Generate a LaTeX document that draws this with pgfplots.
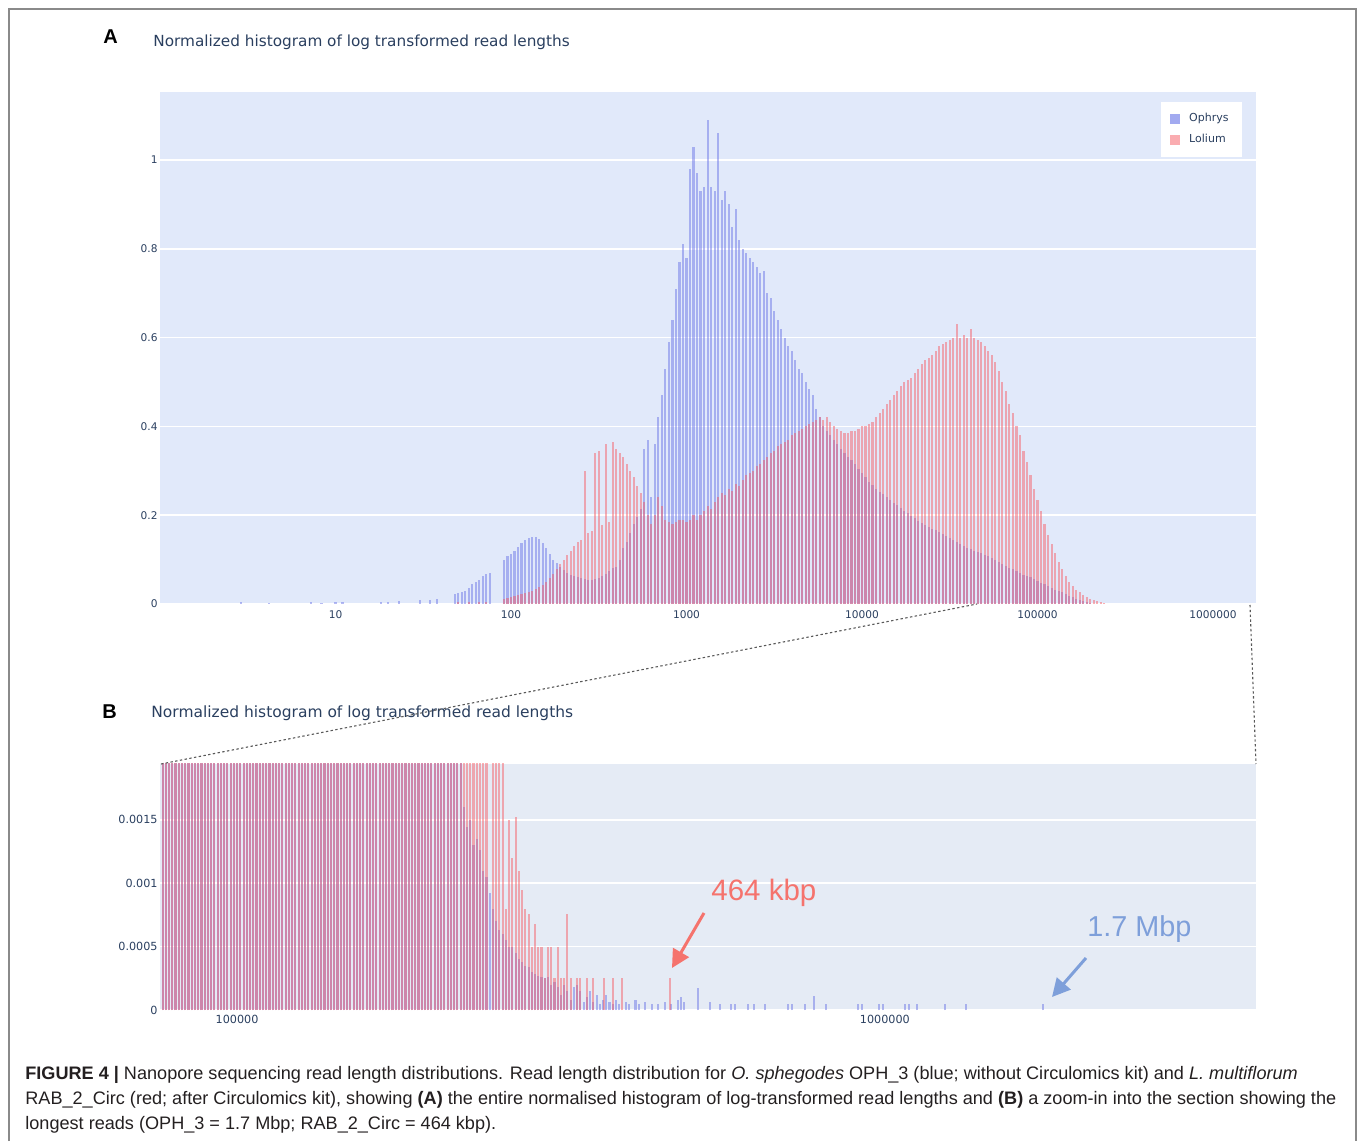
\documentclass[border=0pt]{standalone}
\usepackage{fontspec}
\setmainfont{Liberation Sans}
\newfontfamily\dejavu{DejaVu Sans}
\usepackage{pgfplots}
\pgfplotsset{compat=1.18}
\usetikzlibrary{arrows.meta}
\definecolor{bgA}{HTML}{E1E9FA}
\definecolor{bgB}{HTML}{E5EBF5}
\definecolor{navy}{HTML}{2A3F5F}
\definecolor{ophrys}{HTML}{6770E6}
\definecolor{lolium}{HTML}{F65A62}
\definecolor{capgray}{HTML}{231F20}
\definecolor{annred}{HTML}{F5736D}
\definecolor{annblue}{HTML}{7E9FDA}
\definecolor{framegray}{HTML}{8A8A8A}
\pgfplotsset{
  plotlystyle/.style={
    scale only axis, axis line style={draw=none}, major tick length=0pt,
    ymajorgrids, grid style={white, line width=0.8pt},
    tick label style={font=\dejavu\fontsize{5.3}{6}\selectfont, text=navy},
    yticklabel style={inner xsep=1pt},
    scaled y ticks=false, scaled x ticks=false,
    /pgf/number format/assume math mode=true,
    clip=true,
  },
  bluebar/.style={ycomb, draw=ophrys, line width=1.05pt, draw opacity=0.48, forget plot},
  redbar/.style={ycomb, draw=lolium, line width=1.05pt, draw opacity=0.48, forget plot},
}
\begin{document}
\begin{tikzpicture}
\useasboundingbox (0pt,0pt) rectangle (680pt,570.5pt);

% ---------------- Panel A ----------------
\begin{axis}[plotlystyle, at={(80pt,268.5pt)}, anchor=south west,
  width=548pt, height=256pt,
  axis background/.style={fill=bgA},
  xmin=0, xmax=6.245, ymin=0, ymax=1.153,
  xtick={1,2,3,4,5,6}, xticklabels={10,100,1000,10000,100000,1000000},
  ytick={0,0.2,0.4,0.6,0.8,1}, yticklabels={0,0.2,0.4,0.6,0.8,1},
  legend style={at={(1,1)}, anchor=north east, xshift=-7pt, yshift=-5pt,
    fill=white, draw=none, font=\dejavu\fontsize{5.5}{6.5}\selectfont, text=navy,
    inner xsep=4.5pt, inner ysep=3.5pt, row sep=0.8pt,
    /tikz/every odd column/.append style={column sep=2.5pt}},
  legend cell align=left,
  legend image code/.code={\fill[#1] (0pt,-2.6pt) rectangle (5.2pt,2.6pt);},
]
\addlegendimage{fill=ophrys!52!bgA, draw=none}
\addlegendentry{Ophrys}
\addlegendimage{fill=lolium!50!white, draw=none}
\addlegendentry{Lolium}
\addplot[bluebar] coordinates {
(0.46,0.004)(0.62,0.003)(0.86,0.004)(0.92,0.003)(1.00,0.005)(1.04,0.004)(1.26,0.005)(1.30,0.004)(1.36,0.006)(1.48,0.008)(1.54,0.010)(1.58,0.012)
(1.68,0.022)(1.70,0.025)(1.72,0.028)(1.74,0.030)(1.76,0.035)(1.78,0.045)(1.80,0.050)(1.82,0.055)(1.84,0.062)(1.86,0.068)(1.88,0.070)
(1.96,0.100)(1.98,0.108)(2.00,0.112)(2.02,0.120)(2.04,0.128)(2.06,0.138)(2.08,0.144)(2.10,0.148)(2.12,0.150)(2.14,0.150)
(2.16,0.146)(2.18,0.138)(2.20,0.126)(2.22,0.112)(2.24,0.100)(2.26,0.092)(2.28,0.084)(2.30,0.076)(2.32,0.070)(2.34,0.065)
(2.36,0.062)(2.38,0.060)(2.40,0.058)(2.42,0.056)(2.44,0.055)(2.46,0.055)(2.48,0.056)(2.50,0.058)(2.52,0.062)(2.54,0.068)
(2.56,0.075)(2.58,0.080)(2.60,0.083)(2.62,0.100)(2.64,0.125)(2.66,0.140)(2.68,0.160)(2.70,0.180)(2.72,0.195)(2.74,0.215)
(2.76,0.350)(2.78,0.370)(2.80,0.240)(2.82,0.360)
(2.84,0.42)(2.86,0.47)(2.88,0.53)(2.90,0.59)(2.92,0.64)(2.94,0.71)(2.96,0.77)(2.98,0.81)(3.00,0.78)(3.02,0.98)
(3.04,1.03)(3.06,0.97)(3.08,0.93)(3.10,0.94)(3.12,1.09)(3.14,0.94)(3.16,0.93)(3.18,1.06)(3.20,0.91)(3.22,0.93)
(3.24,0.90)(3.26,0.85)(3.28,0.89)(3.30,0.82)(3.32,0.80)(3.34,0.79)(3.36,0.78)(3.38,0.77)(3.40,0.76)(3.42,0.745)
(3.44,0.75)(3.46,0.70)(3.48,0.69)(3.50,0.66)(3.52,0.64)(3.54,0.62)(3.56,0.60)(3.58,0.58)(3.60,0.57)(3.62,0.55)
(3.64,0.53)(3.66,0.52)(3.68,0.50)(3.70,0.485)(3.72,0.47)(3.74,0.44)(3.76,0.42)(3.78,0.40)(3.80,0.39)(3.82,0.38)
(3.84,0.37)(3.86,0.36)(3.88,0.35)(3.90,0.34)(3.92,0.33)(3.94,0.325)(3.96,0.315)(3.98,0.305)(4.00,0.295)(4.02,0.285)
(4.04,0.275)(4.06,0.268)(4.08,0.260)(4.10,0.253)(4.12,0.248)(4.14,0.240)(4.16,0.235)(4.18,0.228)(4.20,0.222)(4.22,0.216)
(4.24,0.210)(4.26,0.205)(4.28,0.198)(4.30,0.193)(4.32,0.188)(4.34,0.182)(4.36,0.178)(4.38,0.174)(4.40,0.170)(4.42,0.166)
(4.44,0.162)(4.46,0.157)(4.48,0.153)(4.50,0.148)(4.52,0.144)(4.54,0.140)(4.56,0.135)(4.58,0.131)(4.60,0.127)(4.62,0.123)
(4.64,0.120)(4.66,0.117)(4.68,0.114)(4.70,0.111)(4.72,0.107)(4.74,0.103)(4.76,0.099)(4.78,0.095)(4.80,0.090)(4.82,0.086)
(4.84,0.082)(4.86,0.078)(4.88,0.074)(4.90,0.070)(4.92,0.066)(4.94,0.063)(4.96,0.060)(4.98,0.057)(5.00,0.052)(5.02,0.048)
(5.04,0.044)(5.06,0.040)(5.08,0.036)(5.10,0.032)(5.12,0.029)(5.14,0.026)(5.16,0.022)(5.18,0.019)(5.20,0.015)(5.22,0.011)
(5.24,0.008)(5.26,0.006)(5.28,0.004)(5.30,0.002)
};
\addplot[redbar] coordinates {
(1.70,0.004)(1.76,0.004)(1.82,0.005)(1.86,0.005)
(1.96,0.012)(1.98,0.014)(2.00,0.016)(2.02,0.018)(2.04,0.020)(2.06,0.022)(2.08,0.024)(2.10,0.027)(2.12,0.030)(2.14,0.034)
(2.16,0.038)(2.18,0.043)(2.20,0.050)(2.22,0.058)(2.24,0.068)(2.26,0.078)(2.28,0.090)(2.30,0.100)(2.32,0.110)(2.34,0.120)
(2.36,0.130)(2.38,0.140)(2.40,0.145)(2.42,0.300)(2.44,0.160)(2.46,0.165)(2.48,0.340)(2.50,0.345)(2.52,0.178)(2.54,0.360)
(2.56,0.185)(2.58,0.365)(2.60,0.350)(2.62,0.340)(2.64,0.330)(2.66,0.315)(2.68,0.300)(2.70,0.285)(2.72,0.265)(2.74,0.250)
(2.76,0.230)(2.78,0.200)(2.80,0.180)(2.82,0.200)(2.84,0.240)(2.86,0.220)(2.88,0.190)(2.90,0.185)(2.92,0.180)(2.94,0.185)
(2.96,0.190)(2.98,0.190)(3.00,0.185)(3.02,0.190)(3.04,0.200)(3.06,0.190)(3.08,0.200)(3.10,0.210)(3.12,0.220)(3.14,0.215)
(3.16,0.230)(3.18,0.240)(3.20,0.250)(3.22,0.245)(3.24,0.260)(3.26,0.255)(3.28,0.270)(3.30,0.265)(3.32,0.280)(3.34,0.290)
(3.36,0.295)(3.38,0.300)(3.40,0.310)(3.42,0.315)(3.44,0.325)(3.46,0.330)(3.48,0.340)(3.50,0.345)(3.52,0.355)(3.54,0.360)
(3.56,0.365)(3.58,0.370)(3.60,0.380)(3.62,0.385)(3.64,0.390)(3.66,0.395)(3.68,0.400)(3.70,0.405)(3.72,0.410)(3.74,0.415)
(3.76,0.420)(3.78,0.415)(3.80,0.420)(3.82,0.410)(3.84,0.400)(3.86,0.395)(3.88,0.390)(3.90,0.385)(3.92,0.385)(3.94,0.390)
(3.96,0.390)(3.98,0.395)(4.00,0.400)(4.02,0.400)(4.04,0.405)(4.06,0.410)(4.08,0.420)(4.10,0.430)(4.12,0.440)(4.14,0.450)
(4.16,0.460)(4.18,0.470)(4.20,0.480)(4.22,0.490)(4.24,0.500)(4.26,0.505)(4.28,0.510)(4.30,0.520)(4.32,0.530)(4.34,0.540)
(4.36,0.550)(4.38,0.555)(4.40,0.560)(4.42,0.570)(4.44,0.580)(4.46,0.585)(4.48,0.590)(4.50,0.595)(4.52,0.600)(4.54,0.630)
(4.56,0.600)(4.58,0.605)(4.60,0.600)(4.62,0.620)(4.64,0.600)(4.66,0.595)(4.68,0.590)(4.70,0.580)(4.72,0.570)(4.74,0.560)
(4.76,0.545)(4.78,0.525)(4.80,0.500)(4.82,0.480)(4.84,0.450)(4.86,0.430)(4.88,0.400)(4.90,0.380)(4.92,0.345)(4.94,0.320)
(4.96,0.290)(4.98,0.260)(5.00,0.235)(5.02,0.210)(5.04,0.180)(5.06,0.155)(5.08,0.135)(5.10,0.115)(5.12,0.095)(5.14,0.078)
(5.16,0.063)(5.18,0.050)(5.20,0.040)(5.22,0.032)(5.24,0.026)(5.26,0.020)(5.28,0.015)(5.30,0.011)(5.32,0.008)(5.34,0.006)
(5.36,0.004)(5.38,0.002)(5.40,0.001)
};
\end{axis}

% ---------------- Panel B ----------------
\begin{axis}[plotlystyle, at={(80pt,65.5pt)}, anchor=south west,
  width=548pt, height=123pt,
  axis background/.style={fill=bgB},
  xmin=4.881, xmax=6.573, ymin=0, ymax=0.00194,
  xtick={5,6}, xticklabels={100000,1000000},
  ytick={0,0.0005,0.001,0.0015}, yticklabels={0,0.0005,0.001,0.0015},
  tick label style={font=\dejavu\fontsize{5.6}{6.5}\selectfont},
  xticklabel style={yshift=0.8pt},
]
\addplot[bluebar] coordinates {
(4.885,0.0025)(4.890,0.0025)(4.895,0.0025)(4.900,0.0025)(4.905,0.0025)(4.910,0.0025)(4.915,0.0025)(4.920,0.0025)(4.925,0.0025)(4.930,0.0025)
(4.935,0.0025)(4.940,0.0025)(4.945,0.0025)(4.950,0.0025)(4.955,0.0025)(4.960,0.0025)(4.965,0.0025)(4.970,0.0025)(4.975,0.0025)(4.980,0.0025)
(4.985,0.0025)(4.990,0.0025)(4.995,0.0025)(5.000,0.0025)(5.005,0.0025)(5.010,0.0025)(5.015,0.0025)(5.020,0.0025)(5.025,0.0025)(5.030,0.0025)
(5.035,0.0025)(5.040,0.0025)(5.045,0.0025)(5.050,0.0025)(5.055,0.0025)(5.060,0.0025)(5.065,0.0025)(5.070,0.0025)(5.075,0.0025)(5.080,0.0025)
(5.085,0.0025)(5.090,0.0025)(5.095,0.0025)(5.100,0.0025)(5.105,0.0025)(5.110,0.0025)(5.115,0.0025)(5.120,0.0025)(5.125,0.0025)(5.130,0.0025)
(5.135,0.0025)(5.140,0.0025)(5.145,0.0025)(5.150,0.0025)(5.155,0.0025)(5.160,0.0025)(5.165,0.0025)(5.170,0.0025)(5.175,0.0025)(5.180,0.0025)
(5.185,0.0025)(5.190,0.0025)(5.195,0.0025)(5.200,0.0025)(5.205,0.0025)(5.210,0.0025)(5.215,0.0025)(5.220,0.0025)(5.225,0.0025)(5.230,0.0025)
(5.235,0.0025)(5.240,0.0025)(5.245,0.0025)(5.250,0.0025)(5.255,0.0025)(5.260,0.0025)(5.265,0.0025)(5.270,0.0025)(5.275,0.0025)(5.280,0.0025)
(5.285,0.0025)(5.290,0.0025)(5.295,0.0025)(5.300,0.0025)(5.305,0.0025)(5.310,0.0025)(5.315,0.0025)(5.320,0.0025)(5.325,0.0025)(5.330,0.0025)
(5.335,0.0025)(5.340,0.0025)(5.345,0.0025)
(5.350,0.0016)(5.355,0.00144)(5.360,0.0015)(5.365,0.0013)(5.370,0.00135)(5.375,0.00126)(5.380,0.0011)(5.385,0.00105)(5.390,0.00092)(5.395,0.0008)
(5.400,0.0007)(5.405,0.00063)(5.410,0.0006)(5.415,0.00055)(5.420,0.0005)(5.425,0.0005)(5.430,0.00045)(5.435,0.0004)(5.440,0.00038)(5.445,0.00035)
(5.450,0.00034)(5.455,0.0003)(5.460,0.00028)(5.465,0.00027)(5.470,0.00026)(5.475,0.00025)(5.480,0.00026)(5.485,0.0002)(5.490,0.00022)(5.495,0.00018)
(5.500,0.00012)(5.505,0.0002)(5.510,0.00015)(5.515,0.00008)(5.520,0.00018)(5.525,0.0002)(5.530,0.00015)(5.535,0.00006)(5.540,0.0001)(5.545,0.00015)
(5.550,0.00006)(5.555,0.00012)(5.560,0.00005)(5.565,0.00008)(5.570,0.00012)(5.575,0.00006)(5.580,0.00005)(5.585,0.00008)(5.590,0.00005)(5.600,0.00006)
(5.605,0.00005)(5.615,0.00008)(5.620,0.00005)(5.630,0.00006)(5.640,0.00005)(5.650,0.00005)(5.660,0.00006)(5.670,0.00005)(5.680,0.00008)(5.685,0.0001)
(5.690,0.00006)(5.711,0.00017)(5.730,0.00006)(5.745,0.00005)(5.762,0.00005)(5.769,0.00005)(5.789,0.00005)(5.798,0.00005)(5.815,0.00005)(5.850,0.00005)
(5.856,0.00005)(5.877,0.00005)(5.890,0.00011)(5.909,0.00005)(5.958,0.00005)(5.965,0.00005)(5.991,0.00005)(5.997,0.00005)(6.031,0.00005)(6.037,0.00005)
(6.049,0.00005)(6.093,0.00005)(6.125,0.00005)(6.244,0.00005)
};
\addplot[redbar] coordinates {
(4.885,0.0025)(4.890,0.0025)(4.895,0.0025)(4.900,0.0025)(4.905,0.0025)(4.910,0.0025)(4.915,0.0025)(4.920,0.0025)(4.925,0.0025)(4.930,0.0025)
(4.935,0.0025)(4.940,0.0025)(4.945,0.0025)(4.950,0.0025)(4.955,0.0025)(4.960,0.0025)(4.965,0.0025)(4.970,0.0025)(4.975,0.0025)(4.980,0.0025)
(4.985,0.0025)(4.990,0.0025)(4.995,0.0025)(5.000,0.0025)(5.005,0.0025)(5.010,0.0025)(5.015,0.0025)(5.020,0.0025)(5.025,0.0025)(5.030,0.0025)
(5.035,0.0025)(5.040,0.0025)(5.045,0.0025)(5.050,0.0025)(5.055,0.0025)(5.060,0.0025)(5.065,0.0025)(5.070,0.0025)(5.075,0.0025)(5.080,0.0025)
(5.085,0.0025)(5.090,0.0025)(5.095,0.0025)(5.100,0.0025)(5.105,0.0025)(5.110,0.0025)(5.115,0.0025)(5.120,0.0025)(5.125,0.0025)(5.130,0.0025)
(5.135,0.0025)(5.140,0.0025)(5.145,0.0025)(5.150,0.0025)(5.155,0.0025)(5.160,0.0025)(5.165,0.0025)(5.170,0.0025)(5.175,0.0025)(5.180,0.0025)
(5.185,0.0025)(5.190,0.0025)(5.195,0.0025)(5.200,0.0025)(5.205,0.0025)(5.210,0.0025)(5.215,0.0025)(5.220,0.0025)(5.225,0.0025)(5.230,0.0025)
(5.235,0.0025)(5.240,0.0025)(5.245,0.0025)(5.250,0.0025)(5.255,0.0025)(5.260,0.0025)(5.265,0.0025)(5.270,0.0025)(5.275,0.0025)(5.280,0.0025)
(5.285,0.0025)(5.290,0.0025)(5.295,0.0025)(5.300,0.0025)(5.305,0.0025)(5.310,0.0025)(5.315,0.0025)(5.320,0.0025)(5.325,0.0025)(5.330,0.0025)
(5.335,0.0025)(5.340,0.0025)(5.345,0.0025)(5.350,0.0025)(5.355,0.0025)(5.360,0.0025)(5.365,0.0025)(5.370,0.0025)(5.375,0.0025)(5.380,0.0025)
(5.385,0.0025)(5.395,0.0025)(5.400,0.0025)(5.405,0.0025)(5.410,0.0025)
(5.415,0.0008)(5.420,0.0015)(5.425,0.0012)(5.430,0.00152)(5.435,0.0011)(5.440,0.00095)(5.445,0.0008)(5.450,0.00076)(5.455,0.0005)(5.460,0.00068)
(5.465,0.0005)(5.470,0.0005)(5.475,0.00025)(5.480,0.0005)(5.485,0.0005)(5.490,0.00025)(5.495,0.0005)(5.500,0.00025)(5.505,0.00025)(5.510,0.00076)
(5.515,0.00025)(5.525,0.00025)(5.530,0.00025)(5.540,0.00025)(5.550,0.00025)(5.566,0.00025)(5.580,0.00025)(5.594,0.00025)(5.668,0.00025)
};
\end{axis}

% everything else in reference pixel coordinates (origin top-left)
\begin{scope}[x=0.5pt, y=-0.5pt, yshift=570.5pt]
% frame
\draw[framegray, line width=0.7pt] (9,1141) -- (9,9) -- (1356,9) -- (1356,1141);
% panel labels and titles
\node[anchor=base west, inner sep=0pt, font=\bfseries\fontsize{10}{12}\selectfont] at (103,44) {A};
\node[anchor=base west, inner sep=0pt, font=\bfseries\fontsize{10}{12}\selectfont] at (102,719) {B};
\node[anchor=base west, inner sep=0pt, text=navy, font=\dejavu\fontsize{7.64}{9}\selectfont] at (153,47) {Normalized histogram of log transformed read lengths};
\node[anchor=base west, inner sep=0pt, text=navy, font=\dejavu\fontsize{7.74}{9}\selectfont] at (151,718) {Normalized histogram of log transformed read lengths};
% connector lines (zoom indication)
\draw[black!65, line width=0.55pt, dash pattern=on 1.2pt off 1.2pt] (161,764) -- (977,604);
\draw[black!65, line width=0.55pt, dash pattern=on 1.2pt off 1.2pt] (1250,605) -- (1256,764);
% annotations
\node[anchor=base west, inner sep=0pt, text=annred, font=\fontsize{14.75}{16}\selectfont] at (711,901) {464 kbp};
\draw[annred, line width=1.5pt, -{Triangle[length=9pt,width=9pt]}] (704,913) -- (672,968);
\node[anchor=base west, inner sep=0pt, text=annblue, font=\fontsize{14.4}{16}\selectfont] at (1087,936) {1.7 Mbp};
\draw[annblue, line width=1.5pt, -{Triangle[length=9pt,width=9pt]}] (1086,958) -- (1052,997);
% caption
\begin{scope}[every node/.style={anchor=base west, inner sep=0pt, text=capgray, font=\fontsize{9.05}{10}\selectfont}]
\node at (25,1079) {\textbf{FIGURE 4 |} Nanopore sequencing read length distributions. Read length distribution for \textit{O. sphegodes} OPH\_3 (blue; without Circulomics kit) and \textit{L. multiflorum}};
\node at (25,1104) {RAB\_2\_Circ (red; after Circulomics kit), showing \textbf{(A)} the entire normalised histogram of log-transformed read lengths and \textbf{(B)} a zoom-in into the section showing the};
\node at (25,1129) {longest reads (OPH\_3 = 1.7 Mbp; RAB\_2\_Circ = 464 kbp).};
\end{scope}
\end{scope}
\end{tikzpicture}
\end{document}
